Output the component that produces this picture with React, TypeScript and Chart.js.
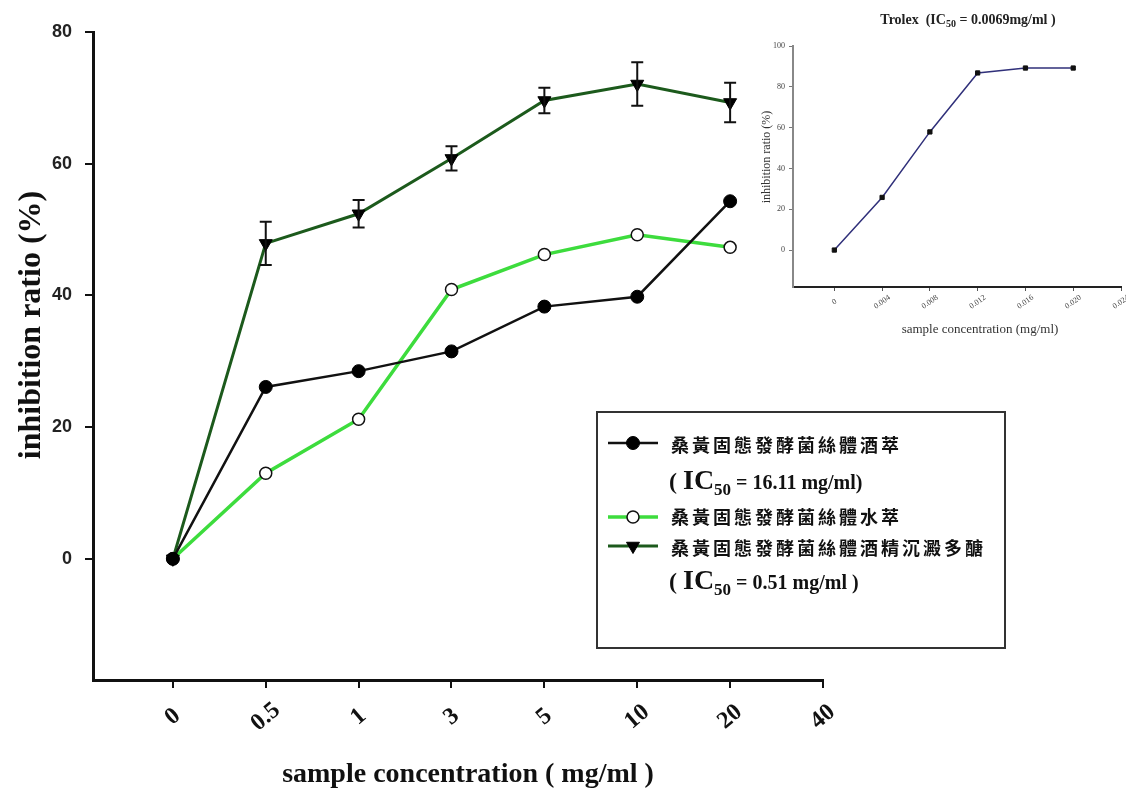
import React, { useEffect, useRef } from "react";
import { Chart, registerables } from "chart.js";
import { drawPoint } from "chart.js/helpers";

Chart.register(...registerables);

// Main figure: inhibition ratio (%) vs sample concentration (mg/ml)
const concLabels = ["0", "0.5", "1", "3", "5", "10", "20", "40"];
const ethanolExtract = [0, 26.1, 28.5, 31.5, 38.3, 39.8, 54.3];
const waterExtract = [0, 13.0, 21.2, 40.9, 46.2, 49.2, 47.3];
const polysaccharide = [0, 47.9, 52.4, 60.8, 69.6, 72.1, 69.3];
const polysaccharideErr = [0, 3.3, 2.1, 1.85, 1.95, 3.3, 3.0];
const mainYTicks = [0, 20, 40, 60, 80];

const seriesNames = [
  "桑黃固態發酵菌絲體酒萃",
  "桑黃固態發酵菌絲體水萃",
  "桑黃固態發酵菌絲體酒精沉澱多醣",
];
const ic50Ethanol = " = 16.11 mg/ml)";
const ic50Poly = " = 0.51 mg/ml )";

// Inset: Trolox reference curve
const troloxConc = [0, 0.004, 0.008, 0.012, 0.016, 0.02];
const troloxInhibition = [0, 25.8, 57.9, 86.8, 89.2, 89.2];
const troloxXTicks = [0, 0.004, 0.008, 0.012, 0.016, 0.02, 0.024];
const troloxXLabels = ["0", "0.004", "0.008", "0.012", "0.016", "0.020", "0.024"];
const troloxYTicks = [0, 20, 40, 60, 80, 100];

const SERIF = '"Liberation Serif", "Times New Roman", serif';
const SANS = '"Liberation Sans", Arial, sans-serif';
const CJK = '"Noto Sans CJK TC", "Noto Sans CJK SC", sans-serif';

const BLACK_LINE = "#111111";
const GREEN_LINE = "#3ddc3d";
const DARK_GREEN_LINE = "#1c5a1c";

type Run = { text: string; font: string; dy?: number };

function drawRuns(ctx: CanvasRenderingContext2D, runs: Run[], x: number, y: number) {
  let cx = x;
  for (const r of runs) {
    ctx.font = r.font;
    ctx.fillText(r.text, cx, y + (r.dy || 0));
    cx += ctx.measureText(r.text).width;
  }
  return cx;
}

function runsWidth(ctx: CanvasRenderingContext2D, runs: Run[]) {
  let w = 0;
  for (const r of runs) {
    ctx.font = r.font;
    w += ctx.measureText(r.text).width;
  }
  return w;
}

function drawSpaced(ctx: CanvasRenderingContext2D, text: string, x: number, y: number, adv: number) {
  Array.from(text).forEach((ch, i) => ctx.fillText(ch, x + i * adv, y));
}

const errorBars = {
  id: "errorBars",
  afterDatasetsDraw(chart: any) {
    const { ctx } = chart;
    const xs = chart.scales.x;
    const ys = chart.scales.y;
    ctx.save();
    ctx.strokeStyle = "#111";
    ctx.lineWidth = 2;
    polysaccharide.forEach((v, i) => {
      const e = polysaccharideErr[i];
      if (!e) return;
      const px = xs.getPixelForValue(i);
      const top = ys.getPixelForValue(v + e);
      const bot = ys.getPixelForValue(v - e);
      ctx.beginPath();
      ctx.moveTo(px, top);
      ctx.lineTo(px, bot);
      ctx.moveTo(px - 6, top);
      ctx.lineTo(px + 6, top);
      ctx.moveTo(px - 6, bot);
      ctx.lineTo(px + 6, bot);
      ctx.stroke();
    });
    ctx.restore();
  },
};

const mainDecor = {
  id: "mainDecor",
  afterDraw(chart: any) {
    const { ctx } = chart;
    const xs = chart.scales.x;
    ctx.save();
    ctx.fillStyle = "#111";

    // rotated category labels under the x axis
    ctx.font = `bold 24px ${SERIF}`;
    ctx.textAlign = "center";
    ctx.textBaseline = "middle";
    concLabels.forEach((lab, i) => {
      const px = xs.getPixelForValue(i);
      ctx.save();
      ctx.translate(px, 717);
      ctx.rotate((-40 * Math.PI) / 180);
      ctx.fillText(lab, 0, 0);
      ctx.restore();
    });

    // axis titles
    ctx.textBaseline = "alphabetic";
    ctx.font = `bold 28px ${SERIF}`;
    ctx.fillText("sample concentration ( mg/ml )", 468, 782);
    ctx.save();
    ctx.translate(40, 325);
    ctx.rotate(-Math.PI / 2);
    ctx.font = `bold 32px ${SERIF}`;
    ctx.fillText("inhibition ratio (%)", 0, 0);
    ctx.restore();

    // legend box
    const bx = 597, by = 412, bw = 408, bh = 236;
    ctx.strokeStyle = "#333";
    ctx.lineWidth = 2;
    ctx.strokeRect(bx, by, bw, bh);

    const lx0 = 608, lx1 = 658, mx = 633;
    const rows = [443, 517, 546];
    const lineStyles = [
      { color: BLACK_LINE, width: 2.5 },
      { color: GREEN_LINE, width: 3.5 },
      { color: DARK_GREEN_LINE, width: 3 },
    ];
    const points = [
      { pointStyle: "circle", radius: 6.5, rotation: 0, borderWidth: 1, fill: "#000", stroke: "#000" },
      { pointStyle: "circle", radius: 6, rotation: 0, borderWidth: 1.5, fill: "#fff", stroke: "#111" },
      { pointStyle: "triangle", radius: 7.5, rotation: 180, borderWidth: 1, fill: "#000", stroke: "#000" },
    ];
    rows.forEach((ry, k) => {
      ctx.beginPath();
      ctx.strokeStyle = lineStyles[k].color;
      ctx.lineWidth = lineStyles[k].width;
      ctx.moveTo(lx0, ry);
      ctx.lineTo(lx1, ry);
      ctx.stroke();
      const p = points[k];
      ctx.fillStyle = p.fill;
      ctx.strokeStyle = p.stroke;
      ctx.lineWidth = p.borderWidth;
      drawPoint(ctx, { pointStyle: p.pointStyle as any, radius: p.radius, rotation: p.rotation, borderWidth: p.borderWidth }, mx, ry);
    });

    ctx.fillStyle = "#111";
    ctx.textAlign = "left";
    ctx.textBaseline = "middle";
    ctx.font = `bold 18px ${CJK}`;
    drawSpaced(ctx, seriesNames[0], 671, 445, 21);
    drawSpaced(ctx, seriesNames[1], 671, 517, 21);
    drawSpaced(ctx, seriesNames[2], 671, 548, 21);

    ctx.textBaseline = "alphabetic";
    const icRuns = (tail: string): Run[] => [
      { text: "( ", font: `bold 24px ${SERIF}` },
      { text: "IC", font: `bold 28px ${SERIF}` },
      { text: "50", font: `bold 17px ${SERIF}`, dy: 6 },
      { text: tail, font: `bold 20px ${SERIF}` },
    ];
    drawRuns(ctx, icRuns(ic50Ethanol), 669, 489);
    drawRuns(ctx, icRuns(ic50Poly), 669, 589);

    ctx.restore();
  },
};

const insetDecor = {
  id: "insetDecor",
  afterDraw(chart: any) {
    const { ctx } = chart;
    const xs = chart.scales.x;
    ctx.save();
    ctx.fillStyle = "#222";

    // title
    ctx.textBaseline = "alphabetic";
    const titleRuns: Run[] = [
      { text: "Trolex  (IC", font: `bold 14px ${SERIF}` },
      { text: "50", font: `bold 10px ${SERIF}`, dy: 3 },
      { text: " = 0.0069mg/ml )", font: `bold 14px ${SERIF}` },
    ];
    const tw = runsWidth(ctx, titleRuns);
    ctx.textAlign = "left";
    drawRuns(ctx, titleRuns, 208 - tw / 2, 24);

    // rotated tick labels
    ctx.font = `8px ${SERIF}`;
    ctx.fillStyle = "#444";
    ctx.textAlign = "center";
    ctx.textBaseline = "middle";
    troloxXTicks.forEach((v, i) => {
      const px = xs.getPixelForValue(v);
      ctx.save();
      ctx.translate(px, 302);
      ctx.rotate((-35 * Math.PI) / 180);
      ctx.fillText(troloxXLabels[i], 0, 0);
      ctx.restore();
    });

    // axis titles
    ctx.fillStyle = "#333";
    ctx.font = `13px ${SERIF}`;
    ctx.fillText("sample concentration (mg/ml)", 220, 330);
    ctx.save();
    ctx.translate(7, 157);
    ctx.rotate(-Math.PI / 2);
    ctx.font = `12px ${SERIF}`;
    ctx.fillText("inhibition ratio (%)", 0, 0);
    ctx.restore();

    ctx.restore();
  },
};

export default function App() {
  const mainRef = useRef<HTMLCanvasElement>(null);
  const insetRef = useRef<HTMLCanvasElement>(null);

  useEffect(() => {
    const main = new Chart(mainRef.current!, {
      type: "line",
      data: {
        datasets: [
          {
            label: seriesNames[0],
            data: ethanolExtract.map((y, i) => ({ x: i, y })),
            borderColor: BLACK_LINE,
            borderWidth: 2.5,
            pointStyle: "circle",
            pointRadius: 6.5,
            pointBackgroundColor: "#000",
            pointBorderColor: "#000",
            pointBorderWidth: 1,
          },
          {
            label: seriesNames[1],
            data: waterExtract.map((y, i) => ({ x: i, y })),
            borderColor: GREEN_LINE,
            borderWidth: 3.5,
            pointStyle: "circle",
            pointRadius: 6,
            pointBackgroundColor: "#fff",
            pointBorderColor: "#111",
            pointBorderWidth: 1.5,
          },
          {
            label: seriesNames[2],
            data: polysaccharide.map((y, i) => ({ x: i, y })),
            borderColor: DARK_GREEN_LINE,
            borderWidth: 3,
            pointStyle: "triangle",
            pointRotation: 180,
            pointRadius: 7.5,
            pointBackgroundColor: "#000",
            pointBorderColor: "#000",
            pointBorderWidth: 1,
          },
        ],
      },
      options: {
        animation: false,
        responsive: false,
        events: [],
        layout: { padding: { left: 0, top: 32, right: 303, bottom: 0 } },
        plugins: { legend: { display: false }, tooltip: { enabled: false } },
        scales: {
          x: {
            type: "linear",
            min: -0.86,
            max: 7,
            afterBuildTicks: (s: any) => {
              s.ticks = concLabels.map((_, i) => ({ value: i }));
            },
            afterFit: (s: any) => {
              s.height = 115;
            },
            ticks: { display: false },
            grid: { drawOnChartArea: false, drawTicks: true, tickLength: 8, color: "#111", lineWidth: 2 },
            border: { display: true, color: "#111", width: 3 },
          },
          y: {
            type: "linear",
            min: -18.4,
            max: 80,
            afterBuildTicks: (s: any) => {
              s.ticks = mainYTicks.map((v) => ({ value: v }));
            },
            afterFit: (s: any) => {
              s.width = 93;
            },
            ticks: {
              font: { family: SANS, size: 18, weight: "bold" },
              color: "#222",
              padding: 13,
            },
            grid: { drawOnChartArea: false, drawTicks: true, tickLength: 8, color: "#111", lineWidth: 2 },
            border: { display: true, color: "#111", width: 3 },
          },
        },
      },
      plugins: [errorBars, mainDecor],
    } as any);

    const inset = new Chart(insetRef.current!, {
      type: "line",
      data: {
        datasets: [
          {
            label: "Trolox",
            data: troloxConc.map((x, i) => ({ x, y: troloxInhibition[i] })),
            borderColor: "#30307a",
            borderWidth: 1.5,
            pointStyle: "rect",
            pointRadius: 3,
            pointBackgroundColor: "#111",
            pointBorderColor: "#111",
            pointBorderWidth: 1,
          },
        ],
      },
      options: {
        animation: false,
        responsive: false,
        events: [],
        layout: { padding: { left: 0, top: 46, right: 0, bottom: 0 } },
        plugins: { legend: { display: false }, tooltip: { enabled: false } },
        scales: {
          x: {
            type: "linear",
            min: -0.00346,
            max: 0.024,
            afterBuildTicks: (s: any) => {
              s.ticks = troloxXTicks.map((v) => ({ value: v }));
            },
            afterFit: (s: any) => {
              s.height = 58;
            },
            ticks: { display: false },
            grid: { drawOnChartArea: false, drawTicks: true, tickLength: 4, color: "#555", lineWidth: 1 },
            border: { display: true, color: "#222", width: 2 },
          },
          y: {
            type: "linear",
            min: -18.1,
            max: 100,
            afterBuildTicks: (s: any) => {
              s.ticks = troloxYTicks.map((v) => ({ value: v }));
            },
            afterFit: (s: any) => {
              s.width = 33;
            },
            ticks: { font: { family: SERIF, size: 8 }, color: "#444", padding: 4 },
            grid: { drawOnChartArea: false, drawTicks: true, tickLength: 4, color: "#777", lineWidth: 1 },
            border: { display: true, color: "#888", width: 2 },
          },
        },
      },
      plugins: [insetDecor],
    } as any);

    return () => {
      main.destroy();
      inset.destroy();
    };
  }, []);

  return (
    <div style={{ position: "absolute", left: 0, top: 0, width: 1126, height: 795, background: "#fff" }}>
      <canvas ref={mainRef} width={1126} height={795} style={{ position: "absolute", left: 0, top: 0 }} />
      <canvas ref={insetRef} width={366} height={345} style={{ position: "absolute", left: 760, top: 0 }} />
    </div>
  );
}
